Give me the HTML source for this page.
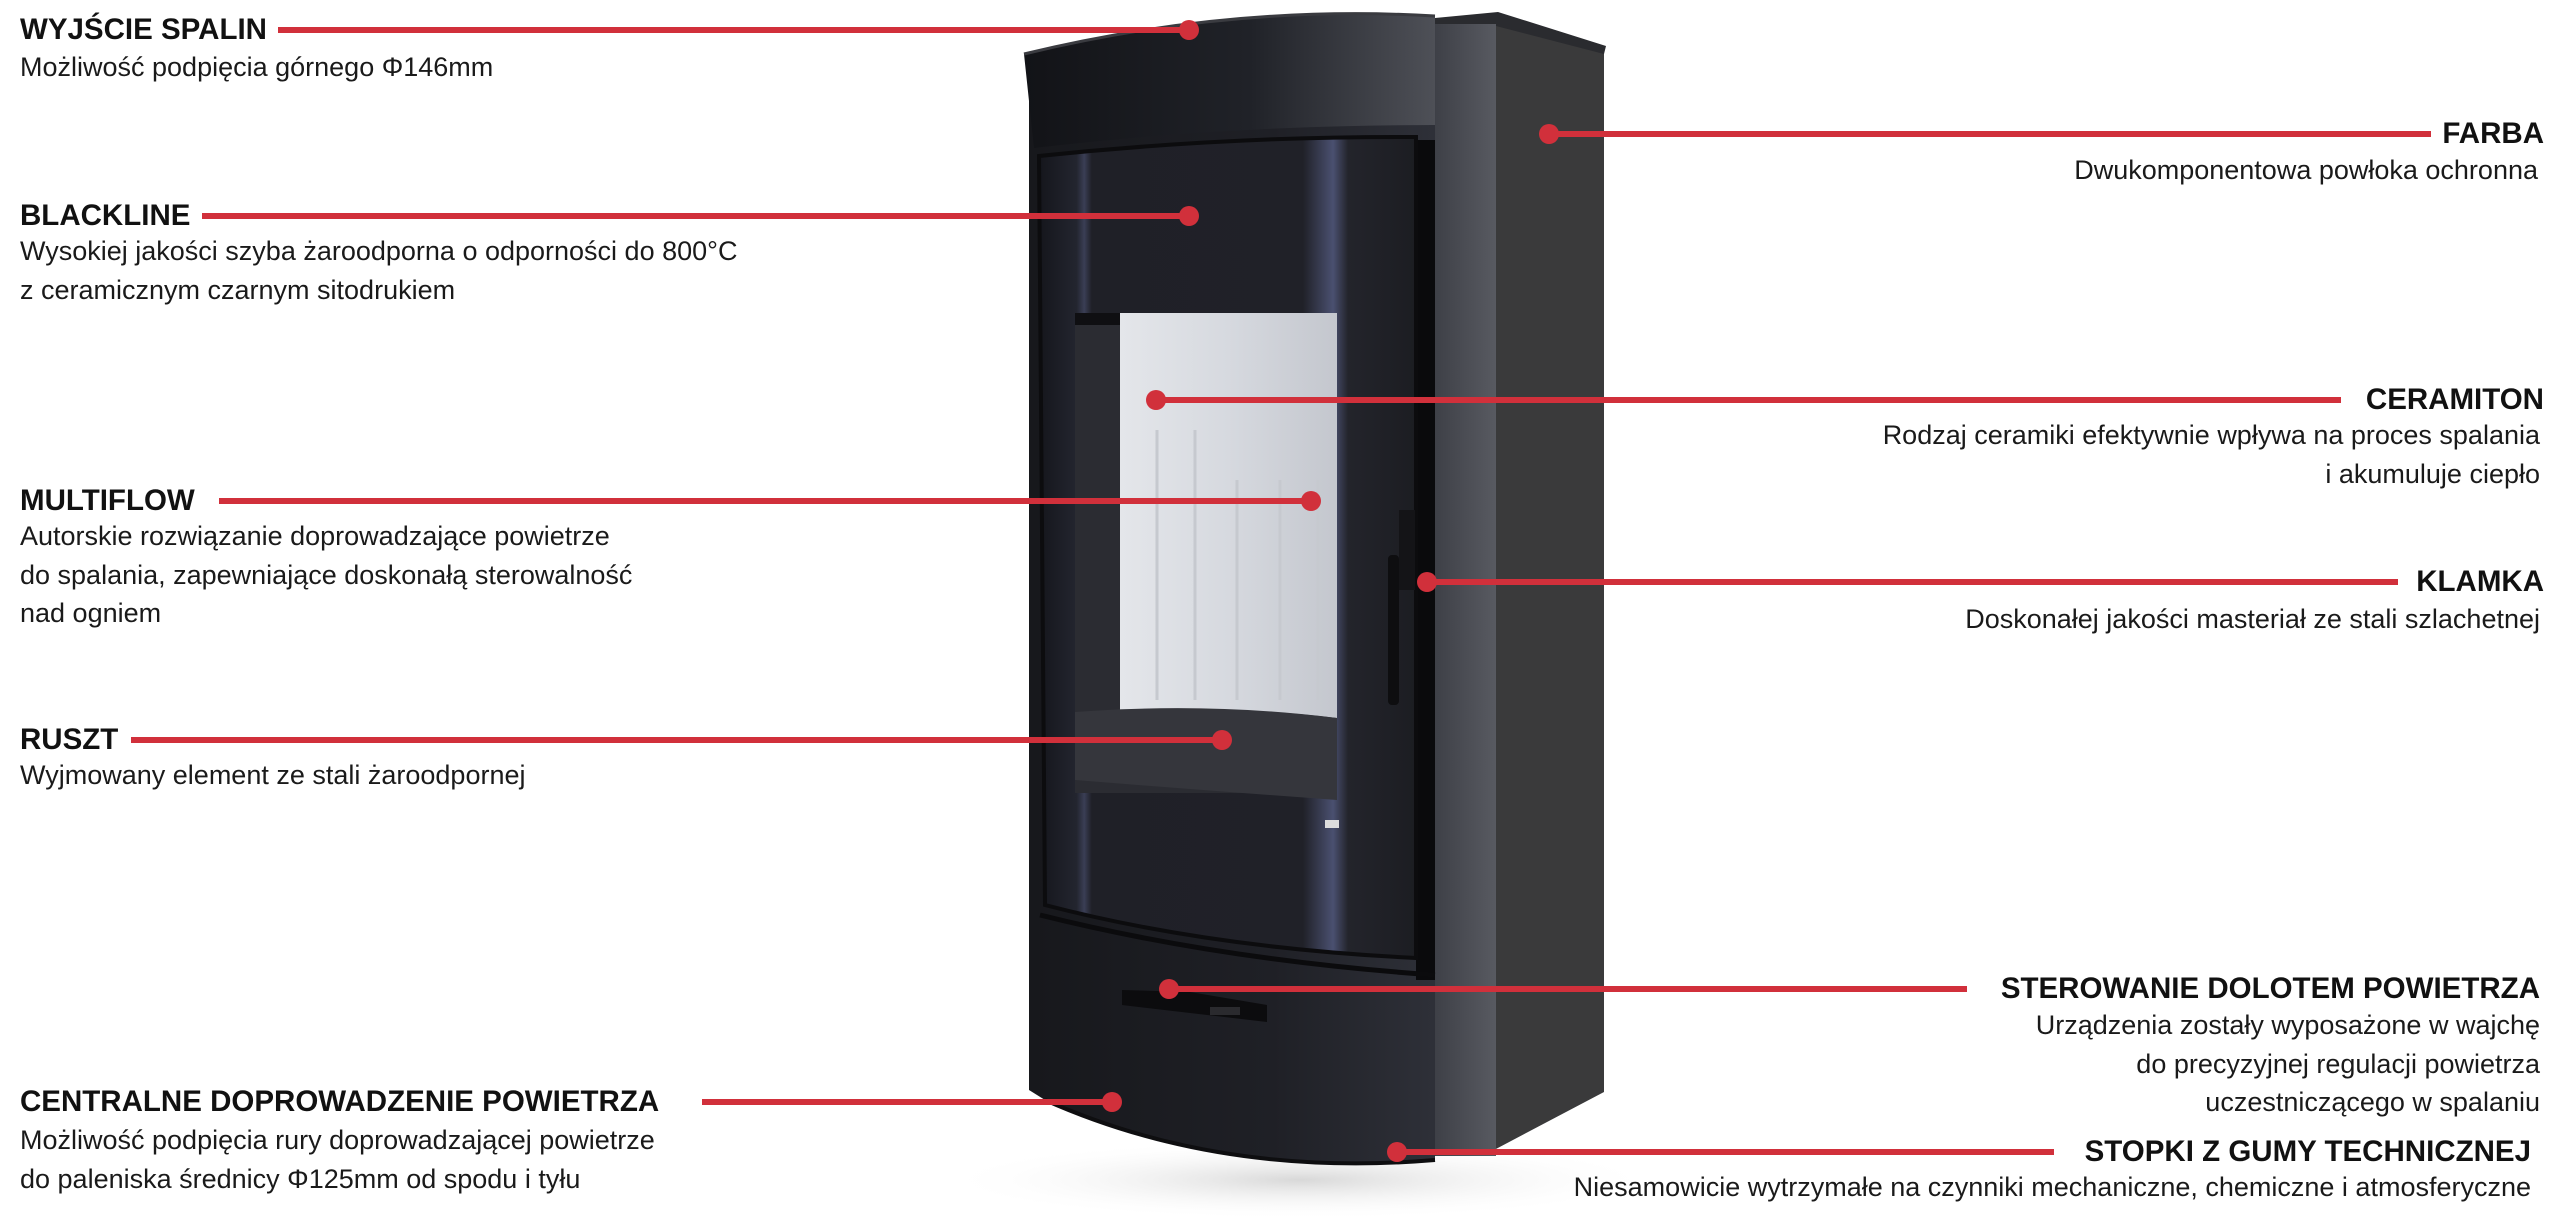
<!DOCTYPE html>
<html><head><meta charset="utf-8">
<style>
html,body{margin:0;padding:0;background:#fff;}
body{width:2560px;height:1221px;position:relative;overflow:hidden;font-family:"Liberation Sans",sans-serif;color:#111;}
.t{position:absolute;font-weight:bold;font-size:29.5px;line-height:34px;white-space:nowrap;}
.s{position:absolute;font-size:27px;line-height:38.5px;white-space:nowrap;color:#1a1a1a;}
.r{text-align:right;}
svg{position:absolute;left:0;top:0;}
</style></head><body>
<svg width="2560" height="1221" viewBox="0 0 2560 1221">
<defs>
<linearGradient id="cap" x1="0" x2="1" y1="0" y2="0">
<stop offset="0" stop-color="#121317"/><stop offset="0.55" stop-color="#202228"/><stop offset="1" stop-color="#4e5057"/>
</linearGradient>
<linearGradient id="strip" x1="0" x2="1" y1="0" y2="0">
<stop offset="0" stop-color="#3e4047"/><stop offset="1" stop-color="#585a61"/>
</linearGradient>
<linearGradient id="glass" x1="0" x2="1" y1="0" y2="0">
<stop offset="0" stop-color="#15161c"/><stop offset="0.1" stop-color="#23252f"/><stop offset="0.12" stop-color="#3a3e55"/><stop offset="0.14" stop-color="#1f2027"/>
<stop offset="0.7" stop-color="#202128"/><stop offset="0.78" stop-color="#4a5070"/><stop offset="0.82" stop-color="#23242b"/><stop offset="1" stop-color="#1c1d22"/>
</linearGradient>
<linearGradient id="cer" x1="0" x2="1" y1="0" y2="0">
<stop offset="0" stop-color="#e4e6ea"/><stop offset="0.5" stop-color="#d6d9df"/><stop offset="1" stop-color="#c4c7ce"/>
</linearGradient>
<linearGradient id="low" x1="0" x2="1" y1="0" y2="0">
<stop offset="0" stop-color="#17181c"/><stop offset="0.6" stop-color="#1f2026"/><stop offset="1" stop-color="#2e3038"/>
</linearGradient>
<radialGradient id="sh" cx="0.5" cy="0.5" r="0.5">
<stop offset="0" stop-color="#d8d8d8"/><stop offset="1" stop-color="#fff" stop-opacity="0"/>
</radialGradient>
</defs>
<ellipse cx="1300" cy="1180" rx="360" ry="40" fill="url(#sh)"/>
<polygon points="1496,25 1604,52 1604,1092 1494,1150" fill="#3a3a3b"/>
<polygon points="1435,18 1498,12 1606,46 1604,54 1496,26 1435,26" fill="#2a2b2f"/>
<rect x="1435" y="24" width="61" height="1132" fill="url(#strip)"/>
<path d="M1029,52 Q1230,5 1435,18 L1435,1160 Q1220,1178 1045,1100 L1029,1090 Z" fill="url(#low)"/>
<path d="M1416,140 L1435,140 L1435,980 L1416,980 Z" fill="#0a0a0c"/>
<path d="M1024,54 Q1230,4 1435,16 L1435,125 Q1230,125 1034,148 Z" fill="url(#cap)"/>
<path d="M1024,54 Q1230,4 1435,16" stroke="#3a3b40" stroke-width="3" fill="none"/>
<path d="M1039,156 Q1230,136 1416,137 L1416,958 Q1210,948 1045,905 Z" fill="url(#glass)" stroke="#0c0c0e" stroke-width="4"/>
<rect x="1075" y="313" width="262" height="480" fill="#2b2c32"/>
<rect x="1075" y="313" width="45" height="12" fill="#0f0f12"/>
<path d="M1120,313 L1337,313 L1337,718 Q1230,705 1120,712 Z" fill="url(#cer)"/>
<g stroke="#c6c9cf" stroke-width="3">
<line x1="1157" y1="430" x2="1157" y2="700"/><line x1="1195" y1="430" x2="1195" y2="700"/>
<line x1="1237" y1="480" x2="1237" y2="700"/><line x1="1280" y1="480" x2="1280" y2="700"/>
<line x1="1318" y1="480" x2="1318" y2="700"/>
</g>
<path d="M1075,712 Q1210,702 1337,718 L1337,800 Q1200,790 1075,780 Z" fill="#35363c"/>
<rect x="1325" y="820" width="14" height="8" fill="#ddd"/>
<rect x="1388" y="555" width="11" height="150" rx="4" fill="#0e0e10"/>
<rect x="1399" y="510" width="16" height="80" fill="#141417"/>
<path d="M1040,915 Q1220,960 1435,975" stroke="#0b0b0d" stroke-width="5" fill="none"/>
<polygon points="1122,990 1190,992 1267,1005 1267,1022 1122,1005" fill="#0c0c0e"/>
<rect x="1210" y="1007" width="30" height="8" fill="#2a2a2e"/>
<path d="M1045,1100 Q1220,1178 1435,1160" stroke="#0e0e10" stroke-width="4" fill="none"/>
<g stroke="#d1303b" stroke-width="6">
<line x1="278" y1="30" x2="1189" y2="30"/>
<line x1="202" y1="216" x2="1189" y2="216"/>
<line x1="219" y1="501" x2="1311" y2="501"/>
<line x1="131" y1="740" x2="1222" y2="740"/>
<line x1="702" y1="1102" x2="1112" y2="1102"/>
<line x1="1549" y1="134" x2="2431" y2="134"/>
<line x1="1156" y1="400" x2="2341" y2="400"/>
<line x1="1427" y1="582" x2="2398" y2="582"/>
<line x1="1169" y1="989" x2="1967" y2="989"/>
<line x1="1397" y1="1152" x2="2054" y2="1152"/>
</g>
<g fill="#d1303b">
<circle cx="1189" cy="30" r="10"/><circle cx="1189" cy="216" r="10"/>
<circle cx="1311" cy="501" r="10"/><circle cx="1222" cy="740" r="10"/>
<circle cx="1112" cy="1102" r="10"/><circle cx="1549" cy="134" r="10"/>
<circle cx="1156" cy="400" r="10"/><circle cx="1427" cy="582" r="10"/>
<circle cx="1169" cy="989" r="10"/><circle cx="1397" cy="1152" r="10"/>
</g>
</svg>

<div class="t" style="left:20px;top:13px;">WYJŚCIE SPALIN</div>
<div class="s" style="left:20px;top:48px;">Możliwość podpięcia górnego Φ146mm</div>

<div class="t" style="left:20px;top:199px;">BLACKLINE</div>
<div class="s" style="left:20px;top:232px;">Wysokiej jakości szyba żaroodporna o odporności do 800°C<br>z ceramicznym czarnym sitodrukiem</div>

<div class="t" style="left:20px;top:484px;">MULTIFLOW</div>
<div class="s" style="left:20px;top:517px;">Autorskie rozwiązanie doprowadzające powietrze<br>do spalania, zapewniające doskonałą sterowalność<br>nad ogniem</div>

<div class="t" style="left:20px;top:723px;">RUSZT</div>
<div class="s" style="left:20px;top:756px;">Wyjmowany element ze stali żaroodpornej</div>

<div class="t" style="left:20px;top:1085px;">CENTRALNE DOPROWADZENIE POWIETRZA</div>
<div class="s" style="left:20px;top:1121px;">Możliwość podpięcia rury doprowadzającej powietrze<br>do paleniska średnicy Φ125mm od spodu i tyłu</div>

<div class="t r" style="right:16px;top:117px;">FARBA</div>
<div class="s r" style="right:22px;top:151px;">Dwukomponentowa powłoka ochronna</div>

<div class="t r" style="right:16px;top:383px;">CERAMITON</div>
<div class="s r" style="right:20px;top:416px;">Rodzaj ceramiki efektywnie wpływa na proces spalania<br>i akumuluje ciepło</div>

<div class="t r" style="right:16px;top:565px;">KLAMKA</div>
<div class="s r" style="right:20px;top:600px;">Doskonałej jakości masteriał ze stali szlachetnej</div>

<div class="t r" style="right:20px;top:972px;">STEROWANIE DOLOTEM POWIETRZA</div>
<div class="s r" style="right:20px;top:1006px;">Urządzenia zostały wyposażone w wajchę<br>do precyzyjnej regulacji powietrza<br>uczestniczącego w spalaniu</div>

<div class="t r" style="right:29px;top:1135px;">STOPKI Z GUMY TECHNICZNEJ</div>
<div class="s r" style="right:29px;top:1168px;">Niesamowicie wytrzymałe na czynniki mechaniczne, chemiczne i atmosferyczne</div>
</body></html>
